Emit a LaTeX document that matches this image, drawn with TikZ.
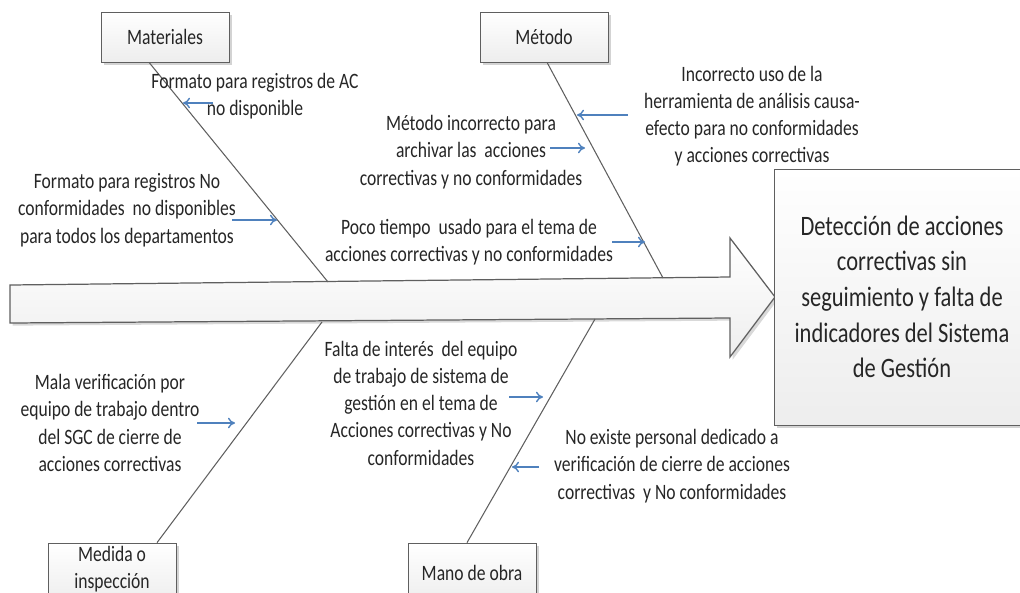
\documentclass[tikz,border=0pt]{standalone}
\usepackage{fontspec}
\setmainfont{Carlito}[FakeStretch=0.8]
\usetikzlibrary{calc,arrows.meta,positioning,shadows}
\definecolor{causeblue}{RGB}{79,129,189}
\definecolor{boneline}{RGB}{95,95,95}

\begin{document}
\begin{tikzpicture}[x=0.02cm,y=-0.02cm,
        every node/.style={font=\fontsize{12.5}{15.5}\selectfont, text=black!85},
        catbox/.style={draw=boneline, top color=white, bottom color=gray!14,
            drop shadow={opacity=0.35, shadow xshift=1.5pt, shadow yshift=-1.5pt},
            minimum width=2.56cm, minimum height=1cm, align=center, inner sep=1pt},
        cause/.style={align=center, inner sep=0pt},
        bone/.style={draw=boneline, line width=0.6pt},
        hint/.style={draw=causeblue, line width=0.8pt, -{To[length=4pt,width=6pt]}}]
        \useasboundingbox (0,0) rectangle (1020,592);
        \clip (0,0) rectangle (1020,592);

        % spine
        \coordinate (s1) at (10,285);
        \coordinate (s2) at (730,277);
        \coordinate (s3) at (730,238);
        \coordinate (s4) at (775,297);
        \coordinate (s5) at (730,357);
        \coordinate (s6) at (730,318);
        \coordinate (s7) at (10,323);
        \draw[draw=boneline, line width=0.7pt, top color=white, bottom color=gray!13,
            drop shadow={opacity=0.3, shadow xshift=1.5pt, shadow yshift=-1.5pt}]
            (s1)--(s2)--(s3)--(s4)--(s5)--(s6)--(s7)-- cycle;

        \node[catbox, minimum width=5.1cm, minimum height=5.12cm,
            font=\fontsize{16}{20.3}\selectfont] (eff) at (902,297)
            {Detección de acciones\\correctivas sin\\seguimiento y falta de\\indicadores del Sistema\\de Gestión};

        % categories
        \node[catbox] (mat) at (165,37) {Materiales};
        \node[catbox] (met) at (544,37) {Método};
        \node[catbox, minimum height=1.2cm] (med) at (112,573) {};
        \node[cause] (medtxt) at (112,569) {Medida o\\inspección};
        \node[catbox, minimum height=1.2cm] (man) at (472,573) {Mano de obra};

        \coordinate (b1) at (328,282);
        \coordinate (b2) at (663,278);
        \coordinate (b3) at (322,322);
        \coordinate (b4) at (595,319);
        \draw[bone] (mat.south -| 149,0) -- (b1);
        \draw[bone] (met.south -| 547,0) -- (b2);
        \draw[bone] (med.north -| 157,0) -- (b3);
        \draw[bone] (man.north -| 467,0) -- (b4);

        % causes
        \node[cause] (c1) at (255,96) {Formato para registros de AC\\no disponible};
        \node[cause] (c2) at (127,210) {Formato para registros No\\conformidades\ \ no disponibles\\para todos los departamentos};
        \node[cause] (c3) at (752,116) {Incorrecto uso de la\\herramienta de análisis causa-\\efecto para no conformidades\\y acciones correctivas};
        \node[cause] (c4) at (471,152) {Método incorrecto para\\archivar las\ \ acciones\\correctivas y no conformidades};
        \node[cause] (c5) at (469,242) {Poco tiempo\ \ usado para el tema de\\acciones correctivas y no conformidades};
        \node[cause] (c6) at (110,423) {Mala verificación por\\equipo de trabajo dentro\\del SGC de cierre de\\acciones correctivas};
        \node[cause] (c7) at (421,403) {Falta de interés\ \ del equipo\\de trabajo de sistema de\\gestión en el tema de\\Acciones correctivas y No\\conformidades};
        \node[cause] (c8) at (672,466) {No existe personal dedicado a\\verificación de cierre de acciones\\correctivas\ \ y No conformidades};

        \coordinate (h1) at (213,103); \coordinate (k1) at (183,103);
        \coordinate (h2) at (232,220); \coordinate (k2) at (277,220);
        \coordinate (h3) at (628,115); \coordinate (k3) at (577,115);
        \coordinate (h4) at (550,148); \coordinate (k4) at (585,148);
        \coordinate (h5) at (612,242); \coordinate (k5) at (645,242);
        \coordinate (h6) at (197,423); \coordinate (k6) at (235,423);
        \coordinate (h7) at (509,397); \coordinate (k7) at (543,397);
        \coordinate (h8) at (539,467); \coordinate (k8) at (512,467);
        \foreach \i in {1,...,8}
            \draw[hint] (h\i) -- (k\i);
    \end{tikzpicture}
\end{document}
